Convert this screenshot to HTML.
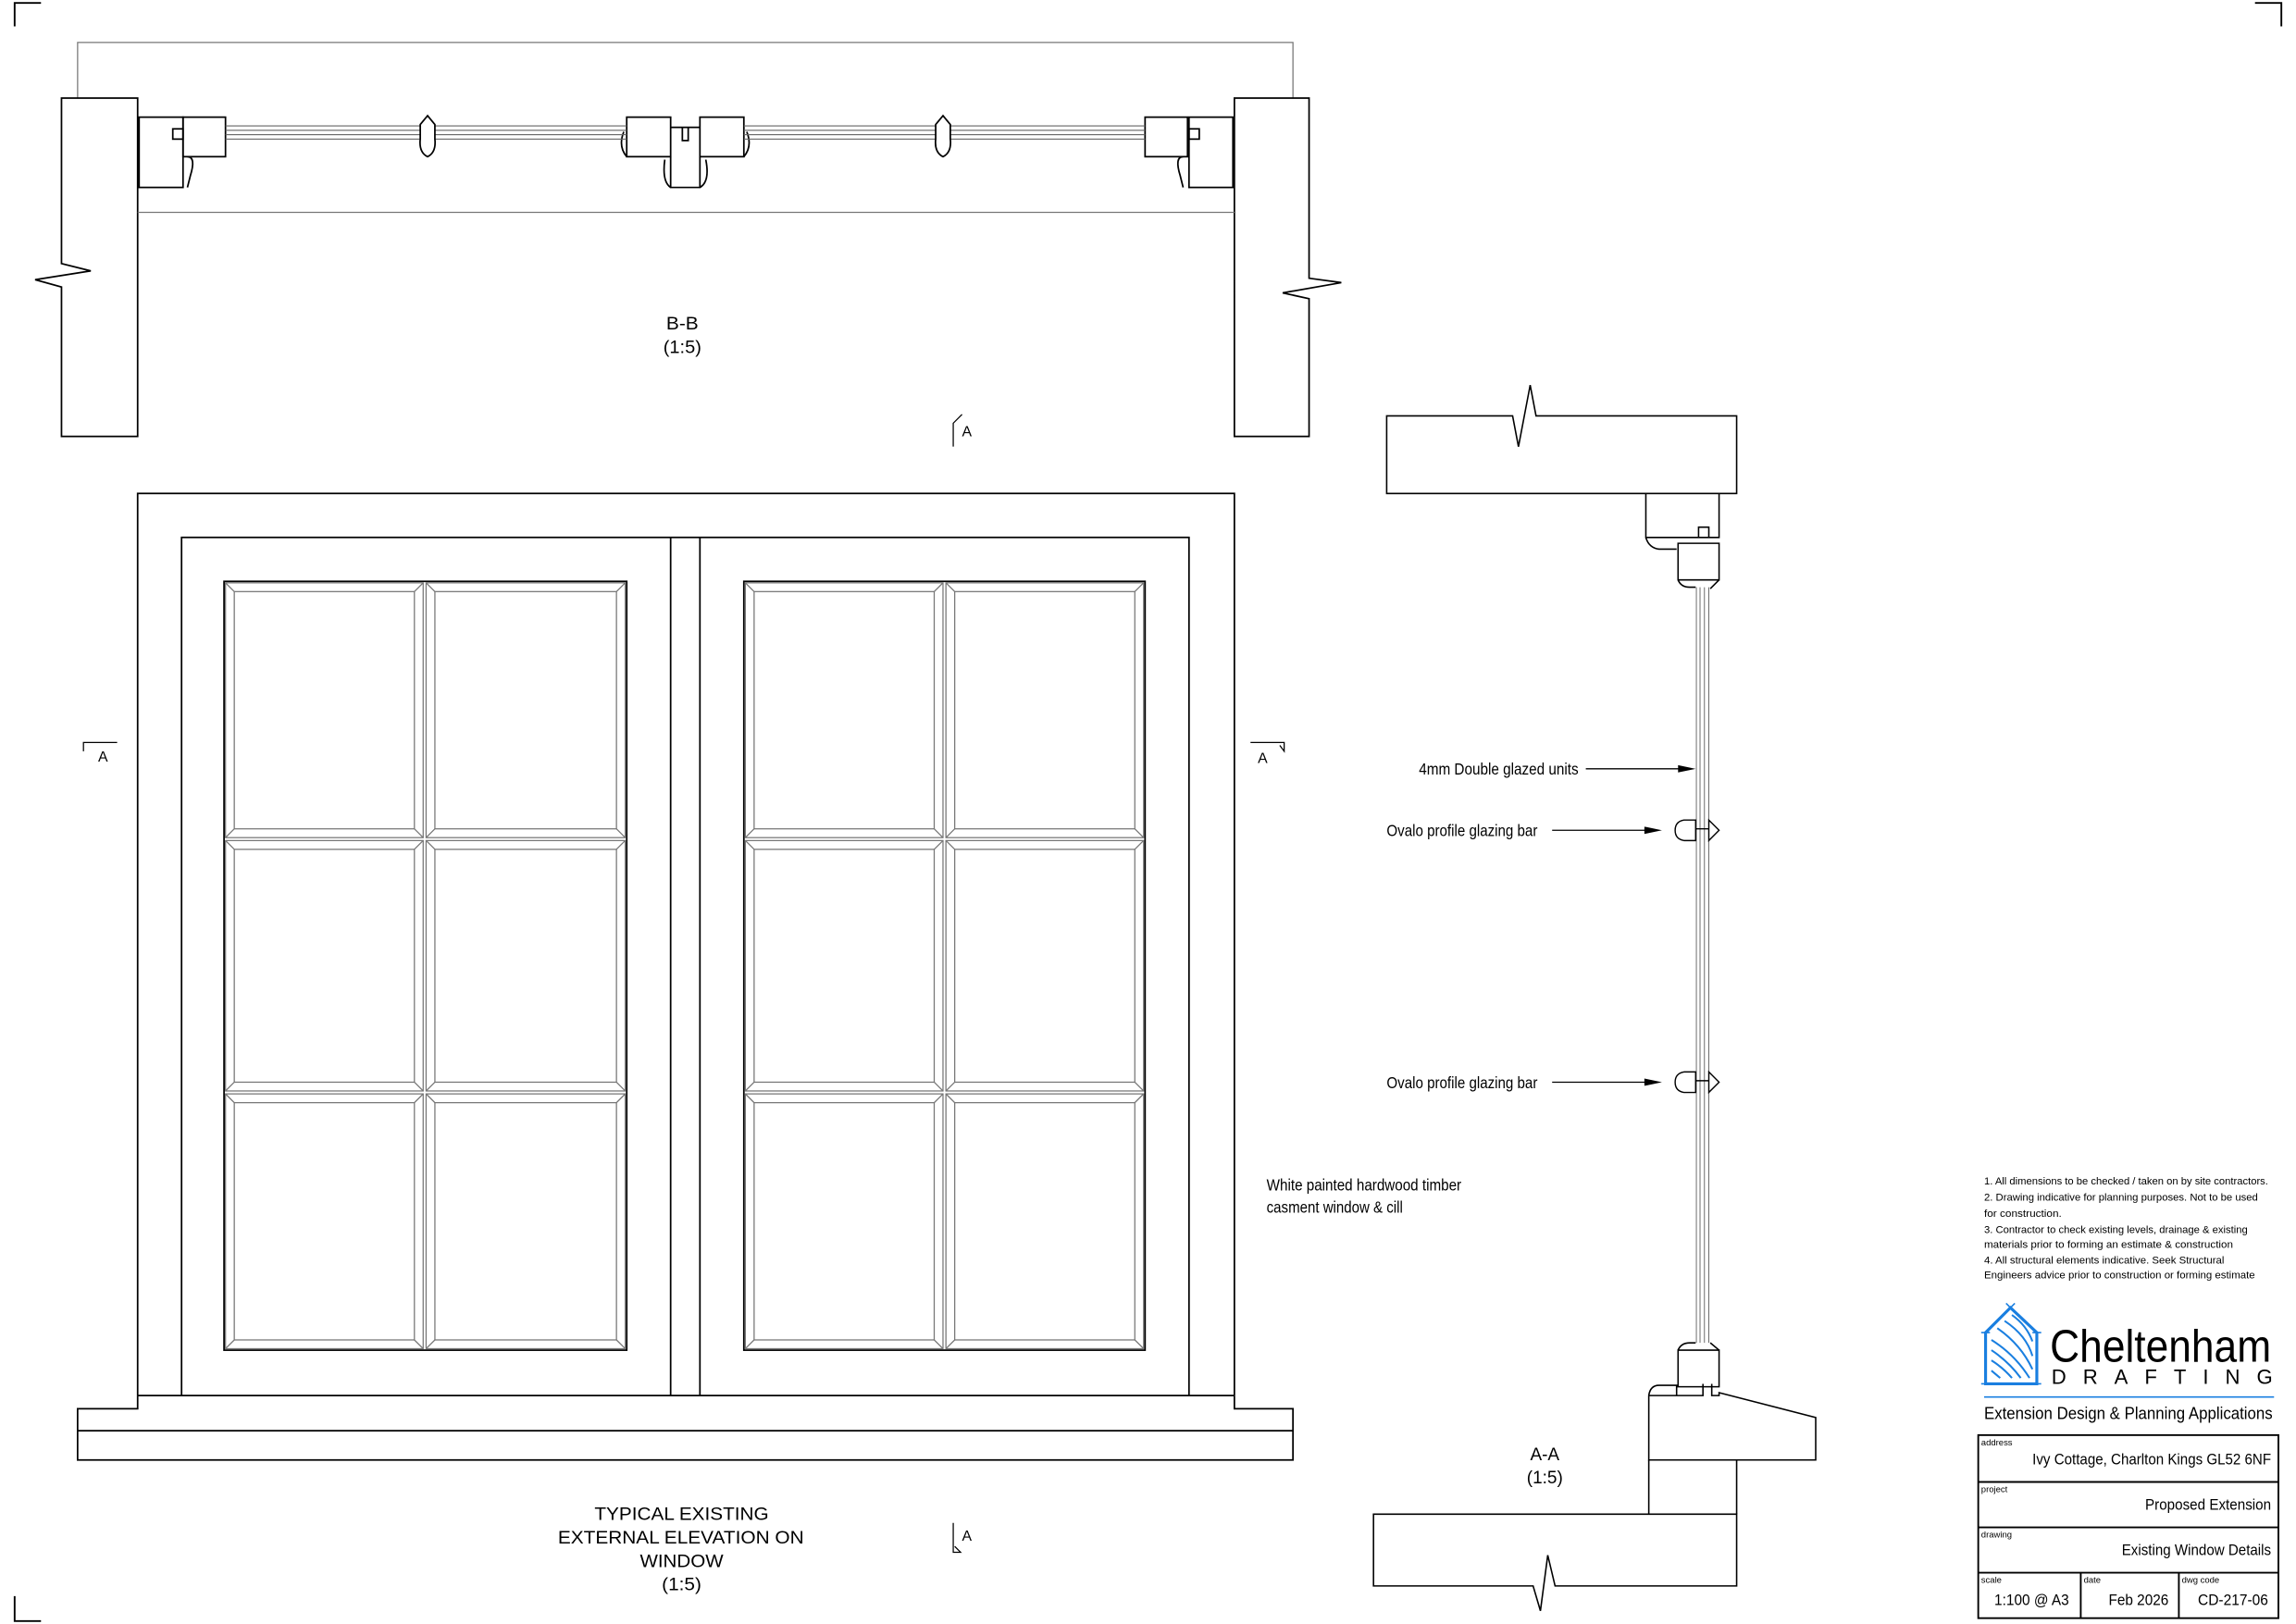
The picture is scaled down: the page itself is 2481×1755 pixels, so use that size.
<!DOCTYPE html>
<html><head><meta charset="utf-8">
<style>
html,body{margin:0;padding:0;background:#fff;}
svg{display:block;}
text{font-family:"Liberation Sans",sans-serif;fill:#000;}
</style></head>
<body>
<svg width="2481" height="1755" viewBox="0 0 1568 1109" preserveAspectRatio="none" xmlns="http://www.w3.org/2000/svg">
<rect width="1568" height="1109" fill="#fff"/>
<path d="M10 18 V2 H28" fill="none" stroke="#000" stroke-width="1.2"/>
<path d="M1540 2 H1558 V18" fill="none" stroke="#000" stroke-width="1.2"/>
<path d="M10 1090 V1107 H28" fill="none" stroke="#000" stroke-width="1.2"/>

<g fill="none" stroke="#000" stroke-width="1.1">
<path d="M53 67 V29 H883 V67" stroke="#777" stroke-width="0.8"/>
<path d="M94 67 H42 V180 L62 185 L24 191 L42 196 V298 H94 Z"/>
<path d="M843 67 H894 V190 L916 193 L876 200 L894 204 V298 H843 Z" />
<line x1="94" y1="145" x2="843" y2="145" stroke="#777" stroke-width="0.8"/>
<rect x="95" y="80" width="30" height="48"/>
<rect x="125" y="80" width="29" height="27"/>
<rect x="118" y="88" width="7" height="7"/>
<path d="M128 107 Q134 107 130 120 L128 128"/>
<rect x="812" y="80" width="30" height="48"/>
<rect x="782" y="80" width="29" height="27"/>
<rect x="812" y="88" width="7" height="7"/>
<path d="M808 107 Q802 107 806 120 L808 128"/>
<rect x="428" y="80" width="30" height="27"/>
<rect x="478" y="80" width="30" height="27"/>
<path d="M458 87 H478 M466 87 V96 H470 V87"/>
<path d="M458 107 V128 H478 V107 M454 109 Q452 124 458 128 M482 109 Q485 124 478 128"/>
<path d="M428 107 Q422 100 426 90 M508 107 Q514 100 510 90"/>
<g stroke="#666" stroke-width="0.7">
<path d="M154 86 H428 M154 89 H428 M154 92 H428 M154 95 H428"/>
<path d="M508 86 H782 M508 89 H782 M508 92 H782 M508 95 H782"/>
</g>
<path d="M292 79 L287 85 V95 Q286 104 292 107 Q298 104 297 95 V85 Z" fill="#fff"/>
<path d="M644 79 L639 85 V95 Q638 104 644 107 Q650 104 649 95 V85 Z" fill="#fff"/>
</g>
<text x="466" y="225" font-size="12" text-anchor="middle" textLength="22" lengthAdjust="spacingAndGlyphs">B-B</text>
<text x="466" y="241" font-size="12" text-anchor="middle" textLength="26" lengthAdjust="spacingAndGlyphs">(1:5)</text>

<g fill="none" stroke="#000" stroke-width="0.8">
<path d="M657 283 L651 289 V305"/>
<path d="M57 513 V507 H80"/>
<path d="M854 507 H877 V513 L874 509"/>
<path d="M651 1040 V1060 H656 L652 1056"/>
</g>
<text x="657" y="298" font-size="10">A</text>
<text x="67" y="520" font-size="10">A</text>
<text x="859" y="521" font-size="10">A</text>
<text x="657" y="1052" font-size="10">A</text>

<g fill="none" stroke="#000" stroke-width="1.1">
<path d="M94 953 V337 H843 V953"/>
<path d="M124 953 V367 H812 V953"/>
<path d="M458 367 V953 M478 367 V953"/>
<rect x="153" y="397" width="275" height="525"/>
<rect x="508" y="397" width="274" height="525"/>
<path d="M94 953 H843 M94 953 V962 H53 V997 H883 V962 H843 V953 M53 977 H883"/>
</g>
<g fill="none" stroke="#777" stroke-width="0.8">
<rect x="154" y="398" width="135" height="174"/><rect x="160" y="404" width="123" height="162"/>
<rect x="291" y="398" width="136" height="174"/><rect x="297" y="404" width="124" height="162"/>
<rect x="509" y="398" width="135" height="174"/><rect x="515" y="404" width="123" height="162"/>
<rect x="646" y="398" width="135" height="174"/><rect x="652" y="404" width="123" height="162"/>
<rect x="154" y="574" width="135" height="171"/><rect x="160" y="580" width="123" height="159"/>
<rect x="291" y="574" width="136" height="171"/><rect x="297" y="580" width="124" height="159"/>
<rect x="509" y="574" width="135" height="171"/><rect x="515" y="580" width="123" height="159"/>
<rect x="646" y="574" width="135" height="171"/><rect x="652" y="580" width="123" height="159"/>
<rect x="154" y="747" width="135" height="174"/><rect x="160" y="753" width="123" height="162"/>
<rect x="291" y="747" width="136" height="174"/><rect x="297" y="753" width="124" height="162"/>
<rect x="509" y="747" width="135" height="174"/><rect x="515" y="753" width="123" height="162"/>
<rect x="646" y="747" width="135" height="174"/><rect x="652" y="753" width="123" height="162"/>
<path d="M154 398 l6 6 M289 398 l-6 6 M154 572 l6 -6 M289 572 l-6 -6 M291 398 l6 6 M427 398 l-6 6 M291 572 l6 -6 M427 572 l-6 -6
M509 398 l6 6 M644 398 l-6 6 M509 572 l6 -6 M644 572 l-6 -6 M646 398 l6 6 M781 398 l-6 6 M646 572 l6 -6 M781 572 l-6 -6
M154 574 l6 6 M289 574 l-6 6 M154 745 l6 -6 M289 745 l-6 -6 M291 574 l6 6 M427 574 l-6 6 M291 745 l6 -6 M427 745 l-6 -6
M509 574 l6 6 M644 574 l-6 6 M509 745 l6 -6 M644 745 l-6 -6 M646 574 l6 6 M781 574 l-6 6 M646 745 l6 -6 M781 745 l-6 -6
M154 747 l6 6 M289 747 l-6 6 M154 921 l6 -6 M289 921 l-6 -6 M291 747 l6 6 M427 747 l-6 6 M291 921 l6 -6 M427 921 l-6 -6
M509 747 l6 6 M644 747 l-6 6 M509 921 l6 -6 M644 921 l-6 -6 M646 747 l6 6 M781 747 l-6 6 M646 921 l6 -6 M781 921 l-6 -6"/>
</g>
<g font-size="12" lengthAdjust="spacingAndGlyphs">
<text x="406" y="1038" textLength="119" lengthAdjust="spacingAndGlyphs">TYPICAL EXISTING</text>
<text x="381" y="1054" textLength="168" lengthAdjust="spacingAndGlyphs">EXTERNAL ELEVATION ON</text>
<text x="437" y="1070" textLength="57" lengthAdjust="spacingAndGlyphs">WINDOW</text>
<text x="452" y="1086" textLength="27" lengthAdjust="spacingAndGlyphs">(1:5)</text>
</g>
<text x="865" y="813" font-size="11" textLength="133" lengthAdjust="spacingAndGlyphs">White painted hardwood timber</text>
<text x="865" y="828" font-size="11" textLength="93" lengthAdjust="spacingAndGlyphs">casment window &amp; cill</text>

<g fill="none" stroke="#000" stroke-width="1">
<path d="M947 284 H1033 L1037 305 L1045 263 L1049 284 H1186 V337 H947 Z"/>
<path d="M1124 337 V367 H1174 V337"/>
<path d="M1146 371 H1174 V396 H1146 Z"/>
<path d="M1124 367 Q1126 374 1133 375 H1145"/>
<path d="M1160 367 V360 H1167 V367"/>
<path d="M1146 396 Q1148 401 1154 401 H1158 M1174 396 L1168 402"/>
<path d="M1146 947 H1174 V922 H1146 Z"/>
<path d="M1146 922 Q1148 917 1154 917 H1158 M1174 922 L1168 917"/>
<path d="M1126 953 V997 H1240 V968 L1174 951 V953 H1169 V945 M1163 945 V953 H1126"/>
<path d="M1126 953 Q1127 946 1133 946 H1145 V953"/>
<path d="M1126 997 V1034 M1186 997 V1034"/>
<path d="M938 1034 H1186 V1083 H1062 L1057 1062 L1052 1100 L1047 1083 H938 Z"/>
<path d="M1083 525 H1150 M1060 567 H1128 M1060 739 H1128" stroke-width="0.8"/>
</g>
<g fill="#000">
<path d="M1158 525 L1146 522.5 V527.5 Z"/>
<path d="M1135 567 L1123 564.5 V569.5 Z"/>
<path d="M1135 739 L1123 736.5 V741.5 Z"/>
</g>
<g fill="none" stroke="#666" stroke-width="0.6">
<path d="M1158.5 401 V917 M1161 401 V917 M1164 401 V917 M1167 401 V917"/>
</g>
<g fill="#fff" stroke="#000" stroke-width="0.9">
<path d="M1158 560 H1150 Q1144 561 1144 567 Q1144 573 1150 574 H1158 Z"/>
<path d="M1167 560 L1174 567 L1167 574 Z"/>
<path d="M1158 732 H1150 Q1144 733 1144 739 Q1144 745 1150 746 H1158 Z"/>
<path d="M1167 732 L1174 739 L1167 746 Z"/>
<path d="M1158 566 H1167 M1158 738 H1167"/>
</g>
<text x="969" y="529" font-size="11" textLength="109" lengthAdjust="spacingAndGlyphs">4mm Double glazed units</text>
<text x="947" y="571" font-size="11" textLength="103" lengthAdjust="spacingAndGlyphs">Ovalo profile glazing bar</text>
<text x="947" y="743" font-size="11" textLength="103" lengthAdjust="spacingAndGlyphs">Ovalo profile glazing bar</text>
<text x="1055" y="997" font-size="12" text-anchor="middle">A-A</text>
<text x="1055" y="1013" font-size="12" text-anchor="middle">(1:5)</text>

<g font-size="7.2">
<text x="1355" y="809" textLength="194" lengthAdjust="spacingAndGlyphs">1. All dimensions to be checked / taken on by site contractors.</text>
<text x="1355" y="820" textLength="187" lengthAdjust="spacingAndGlyphs">2. Drawing indicative for planning purposes. Not to be used</text>
<text x="1355" y="831" textLength="53" lengthAdjust="spacingAndGlyphs">for construction.</text>
<text x="1355" y="842" textLength="180" lengthAdjust="spacingAndGlyphs">3. Contractor to check existing levels, drainage &amp; existing</text>
<text x="1355" y="852" textLength="170" lengthAdjust="spacingAndGlyphs">materials prior to forming an estimate &amp; construction</text>
<text x="1355" y="863" textLength="164" lengthAdjust="spacingAndGlyphs">4. All structural elements indicative. Seek Structural</text>
<text x="1355" y="873" textLength="185" lengthAdjust="spacingAndGlyphs">Engineers advice prior to construction or forming estimate</text>
</g>
<g fill="none" stroke="#1a7fe0" stroke-width="2">
<path d="M1356 945 V910 L1373 893 L1391 910 V945 Z"/>
<path d="M1353 910 H1359 M1388 910 H1394 M1370 890 L1376 896 M1376 890 L1370 896 M1353 945 H1394" stroke-width="1"/>
<g stroke-width="1.3">
<path d="M1360 915 Q1376 925 1386 941 M1360 922 Q1372 930 1380 941 M1360 929 Q1368 934 1374 941 M1360 936 L1366 941 M1364 907 Q1380 918 1388 935 M1369 902 Q1384 912 1388 926 M1374 898 Q1384 905 1388 916"/>
</g>
</g>
<text x="1400" y="930" font-size="31" textLength="151" lengthAdjust="spacingAndGlyphs">Cheltenham</text>
<text x="1401" y="945" font-size="14" textLength="151" lengthAdjust="spacing">DRAFTING</text>
<line x1="1355" y1="954" x2="1553" y2="954" stroke="#1a7fe0" stroke-width="1"/>
<text x="1355" y="969" font-size="11.5" textLength="197" lengthAdjust="spacingAndGlyphs">Extension Design &amp; Planning Applications</text>
<g fill="none" stroke="#000" stroke-width="1.2">
<rect x="1351" y="980" width="205" height="125"/>
<path d="M1351 1012 H1556 M1351 1043 H1556 M1351 1074 H1556 M1421 1074 V1105 M1488 1074 V1105"/>
</g>
<g font-size="6">
<text x="1353" y="987" fill="#888">address</text>
<text x="1353" y="1019" fill="#888">project</text>
<text x="1353" y="1050" fill="#888">drawing</text>
<text x="1353" y="1081" fill="#888">scale</text>
<text x="1423" y="1081" fill="#888">date</text>
<text x="1490" y="1081" fill="#888">dwg code</text>
</g>
<g font-size="10.5">
<text x="1388" y="1000" textLength="163" lengthAdjust="spacingAndGlyphs">Ivy Cottage, Charlton Kings GL52 6NF</text>
<text x="1465" y="1031" textLength="86" lengthAdjust="spacingAndGlyphs">Proposed Extension</text>
<text x="1449" y="1062" textLength="102" lengthAdjust="spacingAndGlyphs">Existing Window Details</text>
<text x="1362" y="1096" textLength="51" lengthAdjust="spacingAndGlyphs">1:100 @ A3</text>
<text x="1440" y="1096" textLength="41" lengthAdjust="spacingAndGlyphs">Feb 2026</text>
<text x="1501" y="1096" textLength="48" lengthAdjust="spacingAndGlyphs">CD-217-06</text>
</g>
</svg>
</body></html>
